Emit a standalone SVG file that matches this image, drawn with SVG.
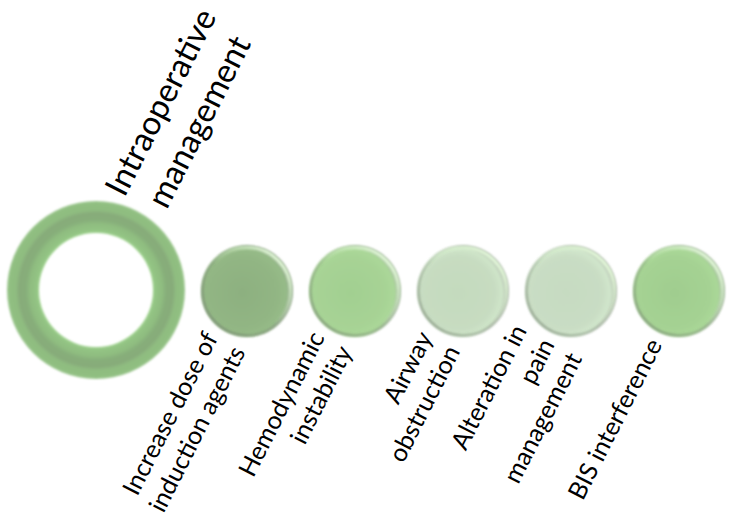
<svg xmlns="http://www.w3.org/2000/svg" width="734" height="527" viewBox="0 0 734 527">
<style>
.title{font-family:Lato,"Open Sans","Liberation Sans",sans-serif;font-size:33px;fill:#000;text-anchor:middle}
.lbl{font-family:Lato,"Open Sans","Liberation Sans",sans-serif;font-size:25px;fill:#000;text-anchor:end}
.hl{fill:none;stroke:url(#light);stroke-width:3.5}
.sh{fill:none;stroke:url(#shade);stroke-width:2.5}
</style>
<defs>
<filter id="soft" x="-10%" y="-10%" width="120%" height="120%"><feGaussianBlur stdDeviation="0.8"/></filter>
<filter id="soft2" x="-10%" y="-10%" width="120%" height="120%"><feGaussianBlur stdDeviation="1.3"/></filter>
<linearGradient id="light" x1="0.1" y1="0.9" x2="0.9" y2="0.1">
<stop offset="0.45" stop-color="#e4ffd8" stop-opacity="0"/>
<stop offset="0.8" stop-color="#e4ffd8" stop-opacity="0.55"/>
<stop offset="1" stop-color="#eaffe0" stop-opacity="0.95"/>
</linearGradient>
<linearGradient id="shade" x1="0.1" y1="0.9" x2="0.9" y2="0.1">
<stop offset="0" stop-color="#6a7866" stop-opacity="0.55"/>
<stop offset="0.55" stop-color="#6a7866" stop-opacity="0.15"/>
<stop offset="0.8" stop-color="#6a7866" stop-opacity="0"/>
</linearGradient>
<radialGradient id="ringG" gradientUnits="userSpaceOnUse" cx="96" cy="290" r="89">
<stop offset="0.635" stop-color="#a4d892"/>
<stop offset="0.67" stop-color="#93c484"/>
<stop offset="0.74" stop-color="#8fbd80"/>
<stop offset="0.79" stop-color="#87ae7a"/>
<stop offset="0.86" stop-color="#87ab7a"/>
<stop offset="0.9" stop-color="#8fbc80"/>
<stop offset="0.97" stop-color="#90bf81"/>
<stop offset="1" stop-color="#9cc78e"/>
</radialGradient>
<radialGradient id="g1" cx="0.45" cy="0.52" r="0.52">
<stop offset="0" stop-color="#8db080"/>
<stop offset="0.75" stop-color="#92b684"/>
<stop offset="0.92" stop-color="#96bb88"/>
<stop offset="1" stop-color="#94a98e"/>
</radialGradient>
<radialGradient id="g2" cx="0.45" cy="0.52" r="0.52">
<stop offset="0" stop-color="#a2cf91"/>
<stop offset="0.75" stop-color="#a7d395"/>
<stop offset="0.92" stop-color="#abd899"/>
<stop offset="1" stop-color="#a3b79d"/>
</radialGradient>
<radialGradient id="g3" cx="0.45" cy="0.52" r="0.52">
<stop offset="0" stop-color="#c4dabe"/>
<stop offset="0.75" stop-color="#c7dcc1"/>
<stop offset="0.92" stop-color="#cfe5c9"/>
<stop offset="1" stop-color="#b1bbae"/>
</radialGradient>
<radialGradient id="g4" cx="0.45" cy="0.52" r="0.52">
<stop offset="0" stop-color="#c6dbc1"/>
<stop offset="0.75" stop-color="#c9ddc4"/>
<stop offset="0.92" stop-color="#d1e6cc"/>
<stop offset="1" stop-color="#b2bcaf"/>
</radialGradient>
<radialGradient id="g5" cx="0.45" cy="0.52" r="0.52">
<stop offset="0" stop-color="#a0cd8f"/>
<stop offset="0.75" stop-color="#a5d293"/>
<stop offset="0.92" stop-color="#aad898"/>
<stop offset="1" stop-color="#a1b69b"/>
</radialGradient>
</defs>
<rect width="734" height="527" fill="#ffffff"/>
<g id="connectors"/>
<g id="title">
<g transform="rotate(-63)">
<text class="title" x="-18" y="201">Intraoperative</text>
<text class="title" x="-18" y="244">management</text>
</g>
</g>
<g id="ring">
<path d="M7,290a89,89 0 1,0 178,0a89,89 0 1,0 -178,0zM39,290a57,57 0 1,1 114,0a57,57 0 1,1 -114,0z" fill="url(#ringG)" fill-rule="evenodd" filter="url(#soft)"/>
</g>
<g id="node1">
<circle cx="247" cy="291" r="46" fill="url(#g1)" filter="url(#soft)"/>
<circle cx="247" cy="291" r="44.5" class="sh" filter="url(#soft2)"/>
<circle cx="247" cy="291" r="43.5" class="hl" filter="url(#soft2)"/>
<g transform="rotate(-63)">
<text class="lbl" x="-202" y="348">Increase dose of</text>
<text class="lbl" x="-202" y="379">induction agents</text>
</g>
</g>
<g id="node2">
<circle cx="355" cy="291" r="46" fill="url(#g2)" filter="url(#soft)"/>
<circle cx="355" cy="291" r="44.5" class="sh" filter="url(#soft2)"/>
<circle cx="355" cy="291" r="43.5" class="hl" filter="url(#soft2)"/>
<g transform="rotate(-63)">
<text class="lbl" x="-153" y="443">Hemodynamic</text>
<text class="lbl" x="-153" y="474">instability</text>
</g>
</g>
<g id="node3">
<circle cx="463" cy="291" r="46" fill="url(#g3)" filter="url(#soft)"/>
<circle cx="463" cy="291" r="44.5" class="sh" filter="url(#soft2)"/>
<circle cx="463" cy="291" r="43.5" class="hl" filter="url(#soft2)"/>
<g transform="rotate(-63)">
<text class="lbl" x="-104" y="539">Airway</text>
<text class="lbl" x="-104" y="570">obstruction</text>
</g>
</g>
<g id="node4">
<circle cx="571" cy="291" r="46" fill="url(#g4)" filter="url(#soft)"/>
<circle cx="571" cy="291" r="44.5" class="sh" filter="url(#soft2)"/>
<circle cx="571" cy="291" r="43.5" class="hl" filter="url(#soft2)"/>
<g transform="rotate(-63)">
<text class="lbl" x="-55" y="620">Alteration in</text>
<text class="lbl" x="-55" y="651">pain</text>
<text class="lbl" x="-55" y="682">management</text>
</g>
</g>
<g id="node5">
<circle cx="679" cy="291" r="46" fill="url(#g5)" filter="url(#soft)"/>
<circle cx="679" cy="291" r="44.5" class="sh" filter="url(#soft2)"/>
<circle cx="679" cy="291" r="43.5" class="hl" filter="url(#soft2)"/>
<g transform="rotate(-63)">
<text class="lbl" x="-6" y="747">BIS interference</text>
</g>
</g>
</svg>
